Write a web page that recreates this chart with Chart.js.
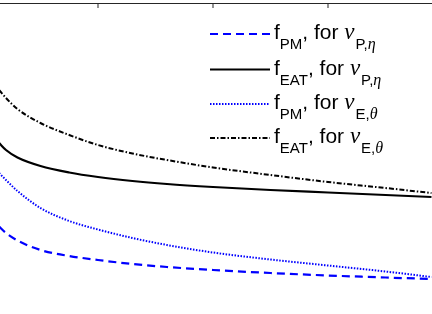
<!DOCTYPE html>
<html>
<head>
<meta charset="utf-8">
<script src="https://cdn.jsdelivr.net/npm/chart.js@4/dist/chart.umd.min.js"></script>
<style>
  html, body { margin: 0; padding: 0; background: #ffffff; }
  #wrap { position: relative; width: 432px; height: 314px; }
  canvas { display: block; }
</style>
</head>
<body>
<div id="wrap"><canvas id="c" width="432" height="314"></canvas></div>
<script>
// ---- data ----
const xValues   = [1.14, 1.2, 1.3, 1.5, 1.75, 2.0, 2.3, 2.6, 3.0, 3.5, 4.0, 4.5, 4.9];
const fPM_P     = [0.875, 0.81, 0.735, 0.64, 0.58, 0.54, 0.50, 0.47, 0.44, 0.41, 0.385, 0.365, 0.35];
const fEAT_P    = [1.71, 1.64, 1.565, 1.48, 1.415, 1.37, 1.33, 1.30, 1.27, 1.24, 1.215, 1.19, 1.17];
const fPM_E     = [1.41, 1.34, 1.23, 1.06, 0.93, 0.845, 0.76, 0.69, 0.615, 0.545, 0.485, 0.425, 0.37];
const fEAT_E    = [2.24, 2.16, 2.05, 1.91, 1.79, 1.69, 1.605, 1.54, 1.465, 1.39, 1.32, 1.26, 1.21];
const xTicks    = [2, 3, 4];
const seriesNames = ['f_PM, for ν_P,η', 'f_EAT, for ν_P,η', 'f_PM, for ν_E,θ', 'f_EAT, for ν_E,θ'];
const legendMain  = ['f', 'f', 'f', 'f'];
const legendSub   = ['PM', 'EAT', 'PM', 'EAT'];
const legendNuSub = ['P', 'P', 'E', 'E'];
const legendGreek = ['η', 'η', 'θ', 'θ'];

const toPts = ys => xValues.map((x, i) => ({ x: x, y: ys[i] }));

const SANS = '"Liberation Sans", Arial, Helvetica, sans-serif';
const SERIF = '"Liberation Serif", "Times New Roman", serif';

const frame = {
  id: 'frame',
  afterDraw(chart) {
    const ctx = chart.ctx;
    const a = chart.chartArea;
    const xs = chart.scales.x;
    ctx.save();
    ctx.fillStyle = '#262626';
    ctx.fillRect(a.left, a.top, a.right - a.left, 1);
    xTicks.forEach(t => {
      const px = Math.round(xs.getPixelForValue(t));
      ctx.fillRect(px - 0.5, a.top + 1, 1, 4);
    });
    ctx.restore();
  }
};

const legendPlugin = {
  id: 'mlegend',
  afterDraw(chart) {
    const ctx = chart.ctx;
    const rows = [34, 69.5, 104, 138];
    ctx.save();
    chart.data.datasets.forEach((ds, i) => {
      const y = rows[i];
      ctx.beginPath();
      ctx.strokeStyle = ds.borderColor;
      ctx.lineWidth = ds.borderWidth;
      ctx.setLineDash(ds.borderDash || []);
      ctx.moveTo(210, y);
      ctx.lineTo(270, y);
      ctx.stroke();
      ctx.setLineDash([]);
      ctx.fillStyle = '#000';
      ctx.textBaseline = 'alphabetic';
      ctx.textAlign = 'left';
      const mainB = y + 5;
      const subB = y + 15;
      let x = 274;
      const seg = (txt, font, bx, by) => {
        ctx.font = font;
        ctx.fillText(txt, bx, by);
        return bx + ctx.measureText(txt).width;
      };
      x = seg(legendMain[i], '21px ' + SANS, x, mainB);
      x = seg(legendSub[i], '15px ' + SANS, x, subB);
      x = seg(', for ', '21px ' + SANS, x, mainB);
      x = seg('ν', 'italic 23px ' + SERIF, x, mainB);
      x += 1;
      x = seg(legendNuSub[i] + ',', '15px ' + SANS, x, subB);
      x = seg(legendGreek[i], 'italic 16px ' + SERIF, x, subB);
    });
    ctx.restore();
  }
};

new Chart(document.getElementById('c'), {
  type: 'line',
  data: {
    datasets: [
      { label: seriesNames[0], data: toPts(fPM_P), borderColor: '#0000ff', borderWidth: 2.2, borderDash: [8, 5] },
      { label: seriesNames[1], data: toPts(fEAT_P), borderColor: '#000000', borderWidth: 2.2, borderDash: [] },
      { label: seriesNames[2], data: toPts(fPM_E), borderColor: '#0000ff', borderWidth: 2, borderDash: [1.5, 1.5] },
      { label: seriesNames[3], data: toPts(fEAT_E), borderColor: '#000000', borderWidth: 2, borderDash: [5, 2, 1.5, 2] }
    ]
  },
  options: {
    responsive: false,
    animation: false,
    devicePixelRatio: 1,
    layout: { padding: { top: 3, left: 0, right: 0, bottom: 0 } },
    elements: { point: { radius: 0 }, line: { cubicInterpolationMode: 'monotone', fill: false } },
    plugins: { legend: { display: false }, tooltip: { enabled: false } },
    scales: {
      x: { type: 'linear', display: false, min: 1.148, max: 1.148 + 432 / 115 },
      y: { type: 'linear', display: false, min: 0, max: 3.11 }
    }
  },
  plugins: [frame, legendPlugin]
});
</script>
</body>
</html>
